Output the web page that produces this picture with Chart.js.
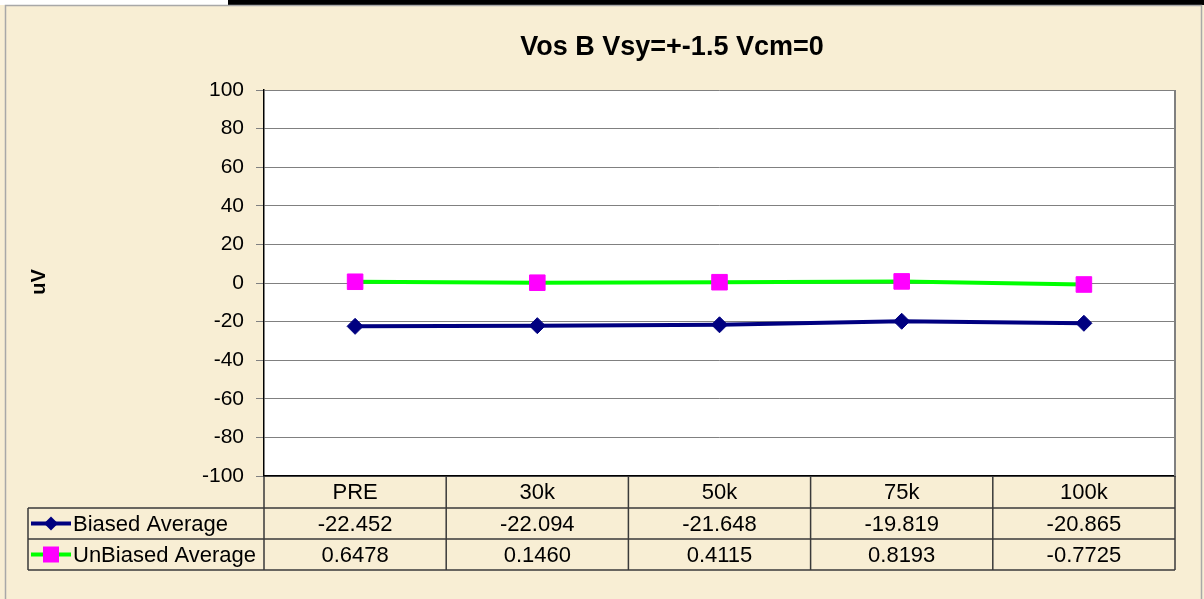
<!DOCTYPE html>
<html>
<head>
<meta charset="utf-8">
<script src="https://cdn.jsdelivr.net/npm/chart.js@4.4.1/dist/chart.umd.min.js"></script>
<style>
  html, body { margin: 0; padding: 0; background: #f8eed4; }
  #wrap { width: 1204px; height: 599px; position: relative; }
</style>
</head>
<body>
<div id="wrap"><canvas id="myChart" width="1204" height="599"></canvas></div>
<script>
// chart data
const categories = ["PRE", "30k", "50k", "75k", "100k"];
const biased = [-22.452, -22.094, -21.648, -19.819, -20.865];
const unbiased = [0.6478, 0.1460, 0.4115, 0.8193, -0.7725];
const seriesNames = ["Biased Average", "UnBiased Average"];
const yMin = -100;
const yMax = 100;
const yStep = 20;

const FONT = "Arial, 'Liberation Sans', sans-serif";
const NAVY = "#000080";
const GREEN = "#00ff00";
const MAGENTA = "#ff00ff";

// background, frame, title and the data table under the plot
const excelLook = {
  id: "excelLook",
  beforeDraw(chart) {
    const ctx = chart.ctx;
    const a = chart.chartArea;
    ctx.save();
    ctx.fillStyle = "#f8eed4";
    ctx.fillRect(0, 0, chart.width, chart.height);
    ctx.fillStyle = "#ffffff";
    ctx.fillRect(0, 0, 228, 5);
    ctx.fillStyle = "#000000";
    ctx.fillRect(228, 0, chart.width - 228, 5);
    ctx.strokeStyle = "#a8a8a8";
    ctx.lineWidth = 1.5;
    ctx.strokeRect(5.5, 5.5, 1196, chart.height + 10);
    ctx.fillStyle = "#ffffff";
    ctx.fillRect(a.left, a.top, a.right - a.left, a.bottom - a.top);
    ctx.restore();
  },
  afterDraw(chart) {
    const ctx = chart.ctx;
    const a = chart.chartArea;
    const x = chart.scales.x;
    ctx.save();

    // plot border on the right
    ctx.strokeStyle = "#808080";
    ctx.lineWidth = 2;
    ctx.beginPath();
    ctx.moveTo(a.right, a.top);
    ctx.lineTo(a.right, a.bottom);
    ctx.stroke();

    // title
    ctx.fillStyle = "#000000";
    ctx.font = "bold 27px " + FONT;
    ctx.textAlign = "center";
    ctx.textBaseline = "middle";
    ctx.fillText("Vos B Vsy=+-1.5 Vcm=0", 672, 48);

    // y title
    ctx.save();
    ctx.translate(39, 282);
    ctx.rotate(-Math.PI / 2);
    ctx.font = "bold 20px " + FONT;
    ctx.fillText("uV", 0, 0);
    ctx.restore();

    // table
    const colW = (a.right - a.left) / categories.length;
    const rows = [a.bottom, 508, 539, 570];
    const tableLeft = 28;
    ctx.strokeStyle = "#3a3a3a";
    ctx.lineWidth = 1.5;
    ctx.beginPath();
    for (let r = 1; r < rows.length; r++) {
      ctx.moveTo(tableLeft, rows[r]);
      ctx.lineTo(a.right, rows[r]);
    }
    ctx.moveTo(tableLeft, rows[1]);
    ctx.lineTo(tableLeft, rows[3]);
    for (let i = 0; i <= categories.length; i++) {
      const bx = a.left + i * colW;
      ctx.moveTo(bx, rows[0]);
      ctx.lineTo(bx, rows[3]);
    }
    ctx.stroke();

    ctx.font = "22px " + FONT;
    ctx.fillStyle = "#000000";
    ctx.textAlign = "center";
    for (let i = 0; i < categories.length; i++) {
      const cx = x.getPixelForValue(i);
      ctx.fillText(categories[i], cx, (rows[0] + rows[1]) / 2 + 1);
      ctx.fillText(biased[i].toFixed(3), cx, (rows[1] + rows[2]) / 2 + 1);
      ctx.fillText(unbiased[i].toFixed(4), cx, (rows[2] + rows[3]) / 2 + 1);
    }

    // legend keys inside the table
    const y1 = (rows[1] + rows[2]) / 2;
    const y2 = (rows[2] + rows[3]) / 2;
    ctx.lineWidth = 4;
    ctx.strokeStyle = NAVY;
    ctx.beginPath();
    ctx.moveTo(31, y1);
    ctx.lineTo(71, y1);
    ctx.stroke();
    ctx.fillStyle = NAVY;
    ctx.beginPath();
    ctx.moveTo(51, y1 - 7);
    ctx.lineTo(58, y1);
    ctx.lineTo(51, y1 + 7);
    ctx.lineTo(44, y1);
    ctx.closePath();
    ctx.fill();

    ctx.strokeStyle = GREEN;
    ctx.beginPath();
    ctx.moveTo(31, y2);
    ctx.lineTo(71, y2);
    ctx.stroke();
    ctx.fillStyle = MAGENTA;
    ctx.fillRect(43, y2 - 8, 16, 16);

    ctx.fillStyle = "#000000";
    ctx.textAlign = "left";
    ctx.fillText(seriesNames[0], 73, y1 + 1);
    ctx.fillText(seriesNames[1], 73, y2 + 1);
    ctx.restore();
  }
};

new Chart("myChart", {
  type: "line",
  data: {
    labels: categories,
    datasets: [
      {
        label: seriesNames[0],
        data: biased,
        borderColor: NAVY,
        backgroundColor: NAVY,
        borderWidth: 4,
        pointStyle: "rectRot",
        pointRadius: 8,
        pointBorderWidth: 1,
        fill: false,
        tension: 0,
      },
      {
        label: seriesNames[1],
        data: unbiased,
        borderColor: GREEN,
        backgroundColor: MAGENTA,
        pointBorderColor: MAGENTA,
        borderWidth: 4,
        pointStyle: "rect",
        pointRadius: 11,
        pointBorderWidth: 1,
        fill: false,
        tension: 0,
      },
    ],
  },
  options: {
    responsive: false,
    animation: false,
    layout: { padding: { left: 0, right: 29, top: 90, bottom: 123 } },
    plugins: {
      legend: { display: false },
      tooltip: { enabled: false },
    },
    scales: {
      x: {
        type: "category",
        offset: true,
        grid: { display: false },
        ticks: { display: false },
        border: { color: "#000000", width: 1.5 },
        afterFit(s) { s.height = 0; },
      },
      y: {
        min: yMin,
        max: yMax,
        ticks: {
          stepSize: yStep,
          color: "#000000",
          padding: 12,
          font: { family: FONT, size: 21 },
        },
        grid: { color: "#808080", lineWidth: 1, tickLength: 8, tickColor: "#808080" },
        border: { color: "#000000", width: 1.5 },
        afterFit(s) { s.width = 264; },
      },
    },
  },
  plugins: [excelLook],
});
</script>
</body>
</html>
